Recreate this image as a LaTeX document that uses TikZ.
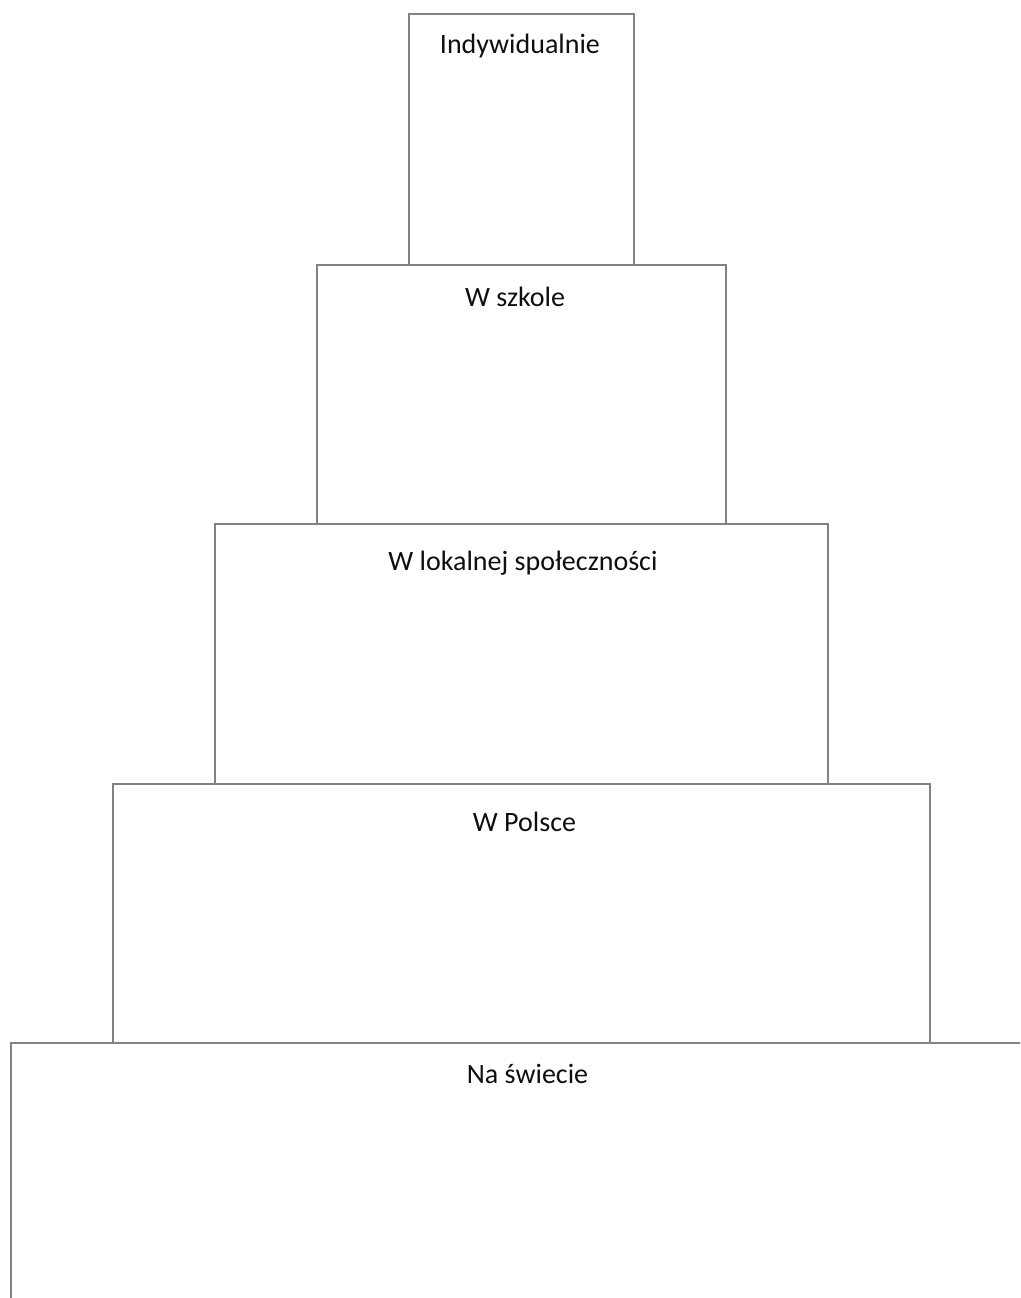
\documentclass[tikz,border=0pt]{standalone}
\usepackage{fontspec}
\setmainfont{Carlito}
\definecolor{edge}{RGB}{130,130,130}
\definecolor{txt}{RGB}{15,15,15}
\begin{document}
\begin{tikzpicture}[x=1pt,y=-1pt,
  level/.style={draw=edge,line width=1.8pt,fill=white,rectangle,inner sep=0pt,anchor=north west},
  label/.style={anchor=base,inner sep=0pt,text=txt,font=\fontsize{28}{34}\selectfont}]
\useasboundingbox (0,0) rectangle (1020,1298);
\clip (0,0) rectangle (1020,1298);
\fill[white] (0,0) rectangle (1020,1298);
\node[level,minimum width=1030pt,minimum height=280pt] (b5) at (10,1042) {};
\node[level,minimum width=817pt,minimum height=259pt] (b4) at (112,783) {};
\node[level,minimum width=613pt,minimum height=260pt] (b3) at (214,523) {};
\node[level,minimum width=409pt,minimum height=259pt] (b2) at (316,264) {};
\node[level,minimum width=225pt,minimum height=251pt] (b1) at (408,13) {};
\node[label] (t1) at (520,53) {Indywidualnie};
\node[label] (t2) at (515,306) {W szkole};
\node[label] (t3) at (523,570) {W lokalnej społeczności};
\node[label] (t4) at (524.5,831) {W Polsce};
\node[label] (t5) at (527.5,1083) {Na świecie};
\end{tikzpicture}
\end{document}
